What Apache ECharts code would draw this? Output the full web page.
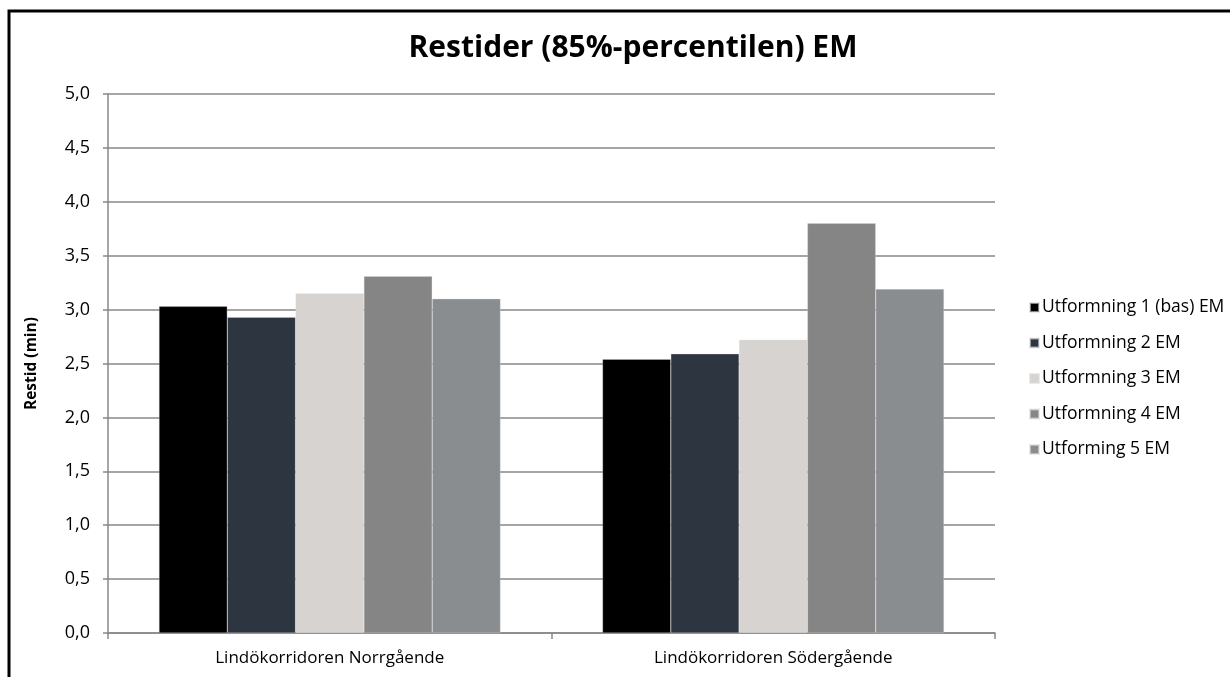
<!DOCTYPE html>
<html>
<head>
<meta charset="utf-8">
<script src="https://cdn.jsdelivr.net/npm/echarts@6/dist/echarts.min.js"></script>
<style>
  html, body { margin: 0; padding: 0; background: #fff; }
  #chart { width: 1230px; height: 677px; }
</style>
</head>
<body>
<div id="chart"></div>
<script>
// Travel-time data (85th percentile), minutes
const categories = ['Lindökorridoren Norrgående', 'Lindökorridoren Södergående'];
const seriesNames = ['Utformning 1 (bas) EM', 'Utformning 2 EM', 'Utformning 3 EM', 'Utformning 4 EM', 'Utforming 5 EM'];
const utformning1 = [3.03, 2.54];
const utformning2 = [2.93, 2.59];
const utformning3 = [3.15, 2.72];
const utformning4 = [3.31, 3.80];
const utformning5 = [3.10, 3.19];
const yTicks = [0, 0.5, 1, 1.5, 2, 2.5, 3, 3.5, 4, 4.5, 5];

const seriesValues = [utformning1, utformning2, utformning3, utformning4, utformning5];
const colors = ['#000000', '#2d3640', '#d6d3d0', '#858585', '#8a8d90'];
const fontFamily = '"Open Sans", "Noto Sans", sans-serif';

const chart = echarts.init(document.getElementById('chart'), null, { renderer: 'canvas' });

chart.setOption({
  animation: false,
  backgroundColor: '#ffffff',
  color: colors,
  title: {
    text: 'Restider (85%-percentilen) EM',
    left: 628,
    textAlign: 'center',
    top: 28,
    textStyle: { fontFamily: fontFamily, fontSize: 30, fontWeight: 'bold', color: '#000' }
  },
  graphic: [{
    type: 'rect',
    shape: { x: 9, y: 11, width: 1400, height: 800 },
    style: { fill: 'none', stroke: '#000', lineWidth: 3 },
    silent: true,
    z: 100
  }],
  legend: {
    orient: 'vertical',
    left: 1024,
    top: 293,
    itemWidth: 9,
    itemHeight: 9,
    itemGap: 16.5,
    icon: 'rect',
    textStyle: { fontFamily: fontFamily, fontSize: 17.5, lineHeight: 19, color: '#000', padding: [0, 0, 0, -2] },
    data: seriesNames
  },
  grid: { left: 108, right: 235, top: 94, bottom: 44, containLabel: false },
  xAxis: {
    type: 'category',
    data: categories,
    axisLine: { lineStyle: { color: '#888888', width: 1.5 } },
    axisTick: { show: true, alignWithLabel: false, length: 6, lineStyle: { color: '#888888', width: 1.5 } },
    axisLabel: { fontFamily: fontFamily, fontSize: 17, color: '#000', margin: 17 }
  },
  yAxis: {
    type: 'value',
    min: yTicks[0],
    max: yTicks[yTicks.length - 1],
    interval: 0.5,
    name: 'Restid (min)',
    nameLocation: 'middle',
    nameGap: 68,
    nameTextStyle: { fontFamily: fontFamily, fontSize: 15.5, fontWeight: 'bold', color: '#000' },
    axisLine: { show: true, lineStyle: { color: '#888888', width: 1.5 } },
    axisTick: { show: true, length: 5, lineStyle: { color: '#888888', width: 1.5 } },
    axisLabel: {
      fontFamily: fontFamily, fontSize: 18, color: '#000', margin: 18,
      formatter: v => v.toFixed(1).replace('.', ',')
    },
    splitLine: { lineStyle: { color: '#878787', width: 1.5 } }
  },
  series: seriesNames.map((name, i) => ({
    name: name,
    type: 'bar',
    data: seriesValues[i],
    barGap: '0%',
    barCategoryGap: '23%',
    itemStyle: { color: colors[i], borderColor: 'rgba(220,220,220,0.6)', borderWidth: 0.5 }
  }))
});
</script>
</body>
</html>
